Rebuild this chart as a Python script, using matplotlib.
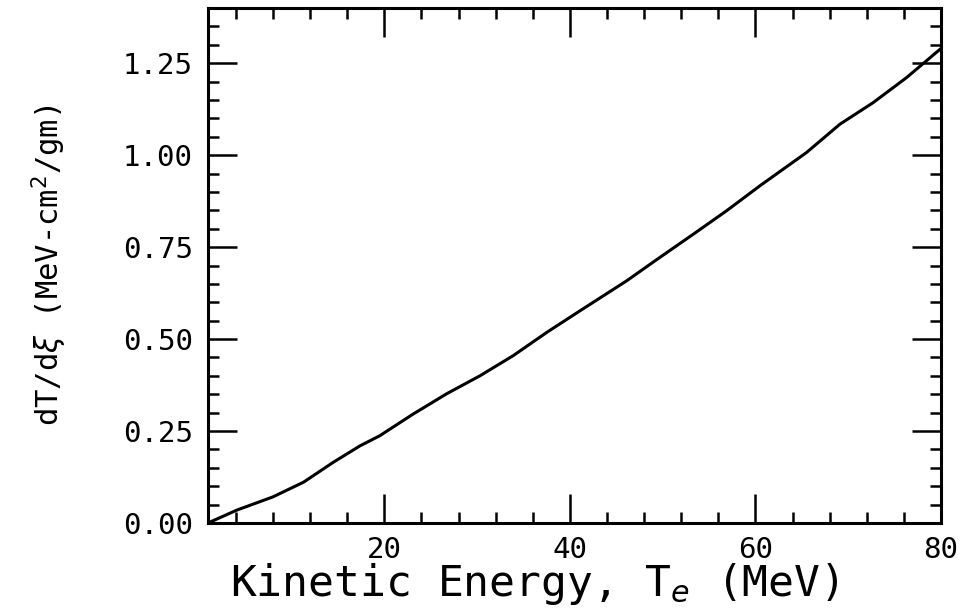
import matplotlib
matplotlib.use("Agg")
import matplotlib.pyplot as plt
from matplotlib.ticker import MultipleLocator

# Kinetic energy (MeV) and stopping power dT/dxi (MeV-cm^2/gm)
energy = [1, 4.1, 8.0, 11.3, 14.5, 17.4, 19.5, 23.1, 26.7, 30.3, 33.9, 37.5, 41.1,
          46.1, 49.7, 53.3, 56.9, 60.5, 65.5, 69.1, 72.7, 76.3, 80]
dT_dxi = [0.0, 0.035, 0.071, 0.111, 0.165, 0.210, 0.237, 0.296, 0.351, 0.400, 0.455,
          0.518, 0.577, 0.658, 0.722, 0.785, 0.849, 0.917, 1.007, 1.084, 1.143, 1.211, 1.29]

x_ticks = [20, 40, 60, 80]
y_ticks = [0.0, 0.25, 0.5, 0.75, 1.0, 1.25]
y_ticklabels = ["0.00", "0.25", "0.50", "0.75", "1.00", "1.25"]

plt.rcParams["font.family"] = "DejaVu Sans Mono"
plt.rcParams["mathtext.fontset"] = "dejavusans"

fig = plt.figure(figsize=(9.64, 6.11), dpi=100)
ax = fig.add_axes([208 / 964, 1 - 523 / 611, (941 - 208) / 964, (523 - 8) / 611])

ax.plot(energy, dT_dxi, color="black", linewidth=2.2)

ax.set_xlim(1, 80)
ax.set_ylim(0, 1.4)

ax.set_xticks(x_ticks)
ax.set_xticklabels([str(v) for v in x_ticks])
ax.xaxis.set_minor_locator(MultipleLocator(4))
ax.set_yticks(y_ticks)
ax.set_yticklabels(y_ticklabels)
ax.yaxis.set_minor_locator(MultipleLocator(0.05))

ax.tick_params(which="both", direction="in", top=True, right=True,
               width=1.8, labelsize=21, colors="black")
ax.tick_params(which="major", length=21)
ax.tick_params(which="minor", length=8)
ax.tick_params(axis="x", which="major", pad=9)
ax.tick_params(axis="y", which="major", pad=11)
for side in ax.spines.values():
    side.set_linewidth(2.2)

ax.set_xlabel("Kinetic Energy, T$_e$ (MeV)", fontsize=31)
ax.xaxis.set_label_coords(0.445, -0.074)
ax.set_ylabel(r"dT/d$\xi$ (MeV-cm$^2$/gm)", fontsize=22)
ax.yaxis.set_label_coords(-0.19, 0.5)

fig.savefig("out.png", dpi=100)
